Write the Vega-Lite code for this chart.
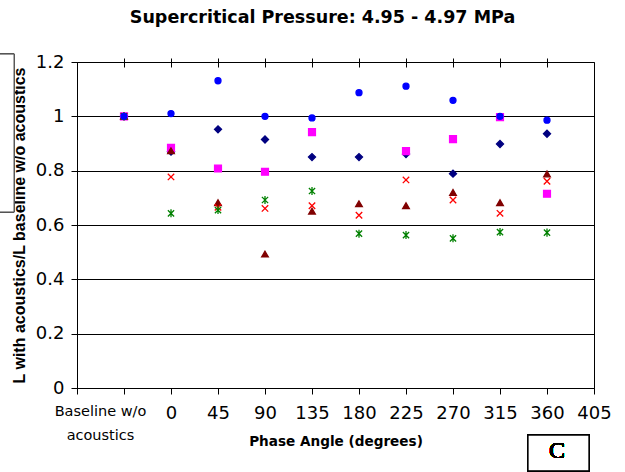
{
  "$schema": "https://vega.github.io/schema/vega-lite/v6.json",
  "width": 517,
  "height": 326,
  "autosize": {"type": "none"},
  "padding": {"left": 77, "top": 62, "right": 31, "bottom": 84},
  "background": "white",
  "title": {
    "text": "Supercritical Pressure: 4.95 - 4.97 MPa",
    "font": "DejaVu Sans",
    "fontSize": 17.5,
    "fontWeight": "bold",
    "color": "black",
    "anchor": "middle",
    "frame": "group",
    "dx": -13,
    "offset": 27
  },
  "config": {
    "view": {"stroke": "black", "strokeWidth": 1},
    "axis": {
      "domainColor": "black",
      "tickColor": "black",
      "labelColor": "black",
      "titleColor": "black",
      "gridColor": "black",
      "gridOpacity": 1,
      "gridWidth": 1
    }
  },
  "data": {
    "values": [
      {"series": "A", "phase": -45, "ratio": 1.0},
      {"series": "A", "phase": 0, "ratio": 0.87},
      {"series": "A", "phase": 45, "ratio": 0.952},
      {"series": "A", "phase": 90, "ratio": 0.915},
      {"series": "A", "phase": 135, "ratio": 0.85},
      {"series": "A", "phase": 180, "ratio": 0.85},
      {"series": "A", "phase": 225, "ratio": 0.861},
      {"series": "A", "phase": 270, "ratio": 0.789},
      {"series": "A", "phase": 315, "ratio": 0.898},
      {"series": "A", "phase": 360, "ratio": 0.936},
      {"series": "B", "phase": -45, "ratio": 1.0},
      {"series": "B", "phase": 0, "ratio": 0.884},
      {"series": "B", "phase": 45, "ratio": 0.808},
      {"series": "B", "phase": 90, "ratio": 0.796},
      {"series": "B", "phase": 135, "ratio": 0.942},
      {"series": "B", "phase": 225, "ratio": 0.872},
      {"series": "B", "phase": 270, "ratio": 0.916},
      {"series": "B", "phase": 315, "ratio": 0.997},
      {"series": "B", "phase": 360, "ratio": 0.715},
      {"series": "C", "phase": -45, "ratio": 1.0},
      {"series": "C", "phase": 0, "ratio": 0.873},
      {"series": "C", "phase": 45, "ratio": 0.682},
      {"series": "C", "phase": 90, "ratio": 0.493},
      {"series": "C", "phase": 135, "ratio": 0.651},
      {"series": "C", "phase": 180, "ratio": 0.678},
      {"series": "C", "phase": 225, "ratio": 0.671},
      {"series": "C", "phase": 270, "ratio": 0.72},
      {"series": "C", "phase": 315, "ratio": 0.682},
      {"series": "C", "phase": 360, "ratio": 0.788},
      {"series": "D", "phase": -45, "ratio": 1.0},
      {"series": "D", "phase": 0, "ratio": 0.777},
      {"series": "D", "phase": 45, "ratio": 0.665},
      {"series": "D", "phase": 90, "ratio": 0.661},
      {"series": "D", "phase": 135, "ratio": 0.671},
      {"series": "D", "phase": 180, "ratio": 0.636},
      {"series": "D", "phase": 225, "ratio": 0.766},
      {"series": "D", "phase": 270, "ratio": 0.692},
      {"series": "D", "phase": 315, "ratio": 0.643},
      {"series": "D", "phase": 360, "ratio": 0.761},
      {"series": "E", "phase": -45, "ratio": 1.0},
      {"series": "E", "phase": 0, "ratio": 0.643},
      {"series": "E", "phase": 45, "ratio": 0.655},
      {"series": "E", "phase": 90, "ratio": 0.692},
      {"series": "E", "phase": 135, "ratio": 0.725},
      {"series": "E", "phase": 180, "ratio": 0.568},
      {"series": "E", "phase": 225, "ratio": 0.563},
      {"series": "E", "phase": 270, "ratio": 0.551},
      {"series": "E", "phase": 315, "ratio": 0.574},
      {"series": "E", "phase": 360, "ratio": 0.572},
      {"series": "F", "phase": -45, "ratio": 1.0},
      {"series": "F", "phase": 0, "ratio": 1.01},
      {"series": "F", "phase": 45, "ratio": 1.131},
      {"series": "F", "phase": 90, "ratio": 1.0},
      {"series": "F", "phase": 135, "ratio": 0.994},
      {"series": "F", "phase": 180, "ratio": 1.087},
      {"series": "F", "phase": 225, "ratio": 1.111},
      {"series": "F", "phase": 270, "ratio": 1.059},
      {"series": "F", "phase": 315, "ratio": 1.0},
      {"series": "F", "phase": 360, "ratio": 0.986}
    ]
  },
  "resolve": {"axis": {"x": "independent", "y": "independent"}},
  "layer": [
    {
      "mark": {"type": "point", "filled": true, "strokeWidth": 1.3, "opacity": 1},
      "encoding": {
        "x": {
          "field": "phase",
          "type": "quantitative",
          "scale": {"domain": [-90, 405], "nice": false, "zero": false},
          "axis": {
            "orient": "bottom",
            "values": [-90, -45, 0, 45, 90, 135, 180, 225, 270, 315, 360, 405],
            "labelExpr": "datum.value == -45 ? ['Baseline w/o', 'acoustics'] : (datum.value == -90 ? '' : datum.label)",
            "grid": false,
            "tickSize": 6,
            "labelPadding": 10,
            "labelFont": "DejaVu Sans",
            "labelFontSize": {"condition": {"test": "datum.value == -45", "value": 14.5}, "value": 18},
            "labelOffset": {"condition": {"test": "datum.value == -45", "value": -24}, "value": 0},
            "labelLineHeight": 24,
            "labelFlush": false,
            "labelOverlap": false,
            "labelBaseline": "top",
            "title": "Phase Angle (degrees)",
            "titleFont": "DejaVu Sans",
            "titleFontSize": 13.6,
            "titleFontWeight": "bold",
            "titleBaseline": "middle",
            "titleY": 53
          }
        },
        "y": {
          "field": "ratio",
          "type": "quantitative",
          "scale": {"domain": [0, 1.2], "nice": false},
          "axis": {
            "values": [0, 0.2, 0.4, 0.6, 0.8, 1, 1.2],
            "format": "~g",
            "grid": true,
            "tickSize": 6,
            "labelPadding": 7,
            "labelFont": "DejaVu Sans",
            "labelFontSize": 18,
            "title": "L with acoustics/L baseline w/o acoustics",
            "titleFont": "Liberation Sans",
            "titleFontSize": 16,
            "titleFontWeight": "bold",
            "titleAngle": -90,
            "titleAlign": "center",
            "titleBaseline": "middle",
            "titleX": -58,
            "titleY": 163
          }
        },
        "shape": {
          "field": "series",
          "type": "nominal",
          "scale": {
            "domain": ["A", "B", "C", "D", "E", "F"],
            "range": ["diamond", "square", "triangle-up", "M-1,-1L1,1M-1,1L1,-1", "M-1,-1L1,1M-1,1L1,-1M0,-1.3L0,1.3", "circle"]
          },
          "legend": null
        },
        "fill": {
          "field": "series",
          "type": "nominal",
          "scale": {
            "domain": ["A", "B", "C", "D", "E", "F"],
            "range": ["#000080", "#FF00FF", "#800000", "#FF0000", "#008000", "#0000FF"]
          },
          "legend": null
        },
        "stroke": {
          "field": "series",
          "type": "nominal",
          "scale": {
            "domain": ["A", "B", "C", "D", "E", "F"],
            "range": ["#000080", "#FF00FF", "#800000", "#FF0000", "#008000", "#0000FF"]
          },
          "legend": null
        },
        "size": {
          "field": "series",
          "type": "nominal",
          "scale": {
            "domain": ["A", "B", "C", "D", "E", "F"],
            "range": [50, 36, 55, 58, 105, 36]
          },
          "legend": null
        }
      }
    },
    {
      "mark": {"type": "rect", "fill": "white", "stroke": "black", "strokeWidth": 1.3},
      "encoding": {
        "x": {"datum": 341.8, "type": "quantitative", "axis": null},
        "x2": {"datum": 400.2},
        "y": {"datum": -0.173, "type": "quantitative", "axis": null},
        "y2": {"datum": -0.305}
      }
    },
    {
      "mark": {"type": "rect", "fill": "white", "stroke": "#555555", "strokeWidth": 1},
      "encoding": {
        "x": {"datum": -175, "type": "quantitative", "axis": null},
        "x2": {"datum": -150.3},
        "y": {"datum": 1.229, "type": "quantitative", "axis": null},
        "y2": {"datum": 0.648}
      }
    },
    {
      "mark": {"type": "text", "text": "C", "font": "Liberation Serif", "fontSize": 24, "fontWeight": "normal", "color": "black", "align": "center", "baseline": "middle"},
      "encoding": {
        "x": {
          "datum": 369.6,
          "type": "quantitative",
          "axis": {
            "orient": "top",
            "values": [-45, 0, 45, 90, 135, 180, 225, 270, 315, 360],
            "domain": false,
            "labels": false,
            "grid": false,
            "ticks": true,
            "tickSize": 9,
            "offset": -5,
            "title": null
          }
        },
        "y": {"datum": -0.232, "type": "quantitative", "axis": null}
      }
    }
  ]
}
